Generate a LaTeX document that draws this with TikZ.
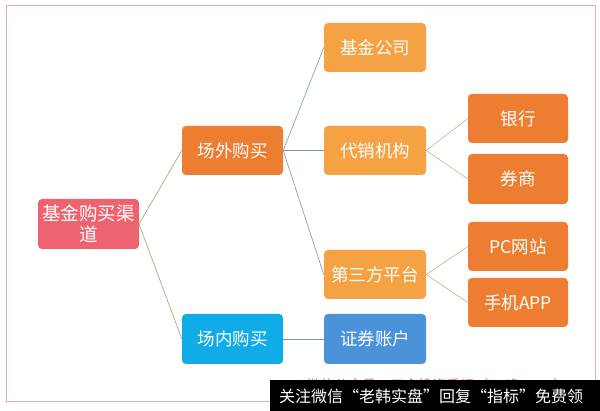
\documentclass[tikz,border=0pt]{standalone}
\usepackage{fontspec}
\setmainfont{Noto Sans CJK SC}
\newfontfamily\cjk{Noto Sans CJK SC}
\definecolor{rootc}{RGB}{238,99,112}
\definecolor{orangec}{RGB}{237,125,49}
\definecolor{lightor}{RGB}{245,162,68}
\definecolor{skyc}{RGB}{17,172,232}
\definecolor{bluec}{RGB}{74,146,218}
\definecolor{framec}{RGB}{232,170,185}
\definecolor{olivel}{RGB}{160,160,110}
\definecolor{bluel}{RGB}{120,150,190}
\definecolor{tanl}{RGB}{212,172,140}
\definecolor{pinktext}{RGB}{230,110,130}
\begin{document}
\begin{tikzpicture}[x=1pt,y=-1pt,
  box/.style={rounded corners=4pt, text=white, font=\cjk\fontsize{17.5}{21}\selectfont, align=center, inner sep=0pt},
  ln/.style={line width=0.6pt}]
\fill[white] (0,0) rectangle (600,411);
\useasboundingbox (0,0) rectangle (600,411);
\draw[framec, line width=1pt] (6,6) rectangle (595,402);
% nodes
\fill[rootc, rounded corners=4pt] (38,199) rectangle (139,249);
\node[box, font=\cjk\fontsize{18.5}{21}\selectfont] (root) at (88.5,224) {基金购买渠\\道};
\coordinate (rootR) at (139,224);
\fill[orangec, rounded corners=4pt] (182,126) rectangle (283,175);
\node[box, minimum width=101pt, minimum height=49pt] (cw) at (232.5,150.5) {场外购买};
\fill[skyc, rounded corners=4pt] (182,314) rectangle (283,364);
\node[box, minimum width=101pt, minimum height=50pt] (cn) at (232.5,339) {场内购买};
\fill[lightor, rounded corners=4pt] (324,23) rectangle (426,72);
\node[box, minimum width=102pt, minimum height=49pt] (jj) at (375,47.5) {基金公司};
\fill[lightor, rounded corners=4pt] (324,126) rectangle (426,175);
\node[box, minimum width=102pt, minimum height=49pt] (dx) at (375,150.5) {代销机构};
\fill[lightor, rounded corners=4pt] (324,250) rectangle (426,299);
\node[box, minimum width=102pt, minimum height=49pt] (ds) at (375,274.5) {第三方平台};
\fill[bluec, rounded corners=4pt] (324,314) rectangle (426,364);
\node[box, minimum width=102pt, minimum height=50pt] (zq) at (375,339) {证券账户};
\fill[orangec, rounded corners=4pt] (468,94) rectangle (568,143);
\node[box, minimum width=100pt, minimum height=49pt] (yh) at (518,118.5) {银行};
\fill[orangec, rounded corners=4pt] (468,154) rectangle (568,204);
\node[box, minimum width=100pt, minimum height=50pt] (qs) at (518,179) {券商};
\fill[orangec, rounded corners=4pt] (468,222) rectangle (568,271);
\node[box, minimum width=100pt, minimum height=49pt] (pc) at (518,246.5) {PC网站};
\fill[orangec, rounded corners=4pt] (468,278) rectangle (568,327);
\node[box, minimum width=100pt, minimum height=49pt] (sj) at (518,302.5) {手机APP};
% connectors
\draw[ln, olivel] (rootR) -- (cw.west);
\draw[ln, olivel] (rootR) -- (cn.west);
\draw[ln, bluel] (cw.east) -- (jj.west);
\draw[ln, bluel] (cw.east) -- (dx.west);
\draw[ln, bluel] (cw.east) -- (ds.west);
\draw[ln, bluel] (cn.east) -- (zq.west);
\draw[ln, tanl] (dx.east) -- (yh.west);
\draw[ln, tanl] (dx.east) -- (qs.west);
\draw[ln, tanl] (ds.east) -- (pc.west);
\draw[ln, tanl] (ds.east) -- (sj.west);
% watermark
\begin{scope}
\clip (250,360) rectangle (600,380);
\node[text=pinktext, font=\cjk\fontsize{14}{16}\selectfont, inner sep=0pt] (wm) at (431,385) {©微信公众号：五金投资手记（ID:ifinvest）};
\end{scope}
\fill[black] (270,380) rectangle (600,411);
\node[text=white, font=\cjk\fontsize{16}{19}\selectfont, inner sep=0pt] (bar) at (431,396) {关注微信“老韩实盘”回复“指标”免费领};
\end{tikzpicture}
\end{document}
